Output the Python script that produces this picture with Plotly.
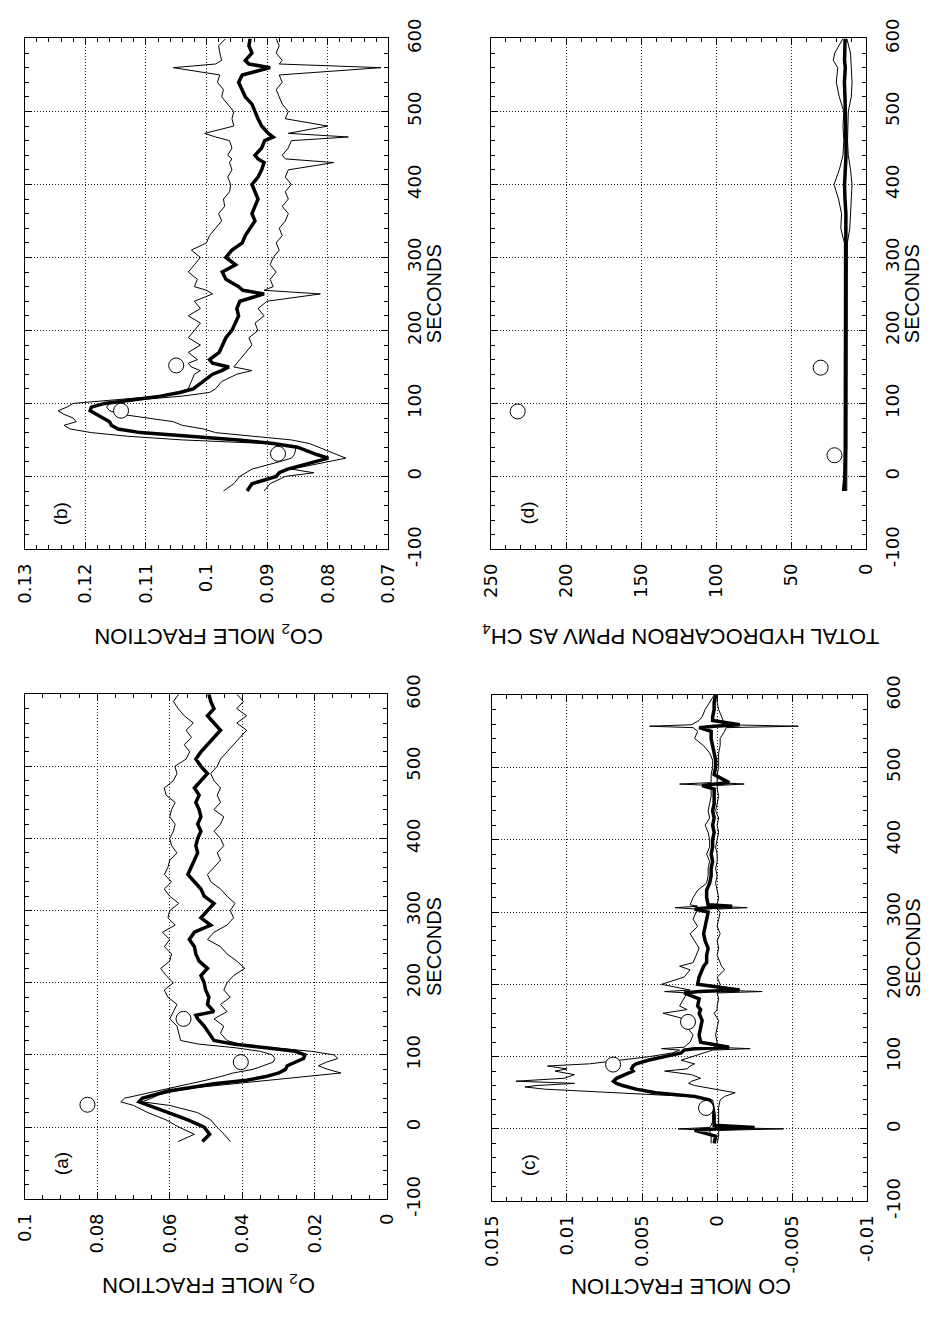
import plotly.graph_objects as go

# ---------------- data ----------------
# (a) O2 mole fraction
o2_time = [-20, -10, 0, 10, 20, 30, 35, 40, 45, 50, 55, 60, 65, 70, 75, 80, 85, 90, 95, 100,
           105, 110, 115, 120, 130, 140, 150, 155, 160, 170, 180, 190, 200, 210, 220, 230, 240,
           250, 260, 270, 280, 290, 300, 310, 320, 330, 340, 350, 360, 370, 380, 390, 400, 410,
           420, 430, 440, 450, 460, 470, 480, 490, 500, 510, 520, 530, 540, 550, 560, 570, 580,
           590, 600]
o2_mean = [0.0510, 0.0490, 0.0505, 0.0550, 0.0604, 0.0658, 0.0685, 0.0676, 0.0640, 0.0604,
           0.0541, 0.0478, 0.0388, 0.0335, 0.0299, 0.0281, 0.0276, 0.0254, 0.0231, 0.0227,
           0.0254, 0.0335, 0.0424, 0.0478, 0.0492, 0.0505, 0.0523, 0.0528, 0.0478, 0.0496,
           0.0492, 0.0501, 0.0505, 0.0514, 0.0496, 0.0519, 0.0528, 0.0532, 0.0546, 0.0532,
           0.0487, 0.0514, 0.0496, 0.0478, 0.0505, 0.0514, 0.0532, 0.0550, 0.0541, 0.0532,
           0.0523, 0.0528, 0.0523, 0.0514, 0.0523, 0.0514, 0.0519, 0.0528, 0.0519, 0.0532,
           0.0514, 0.0496, 0.0514, 0.0528, 0.0514, 0.0496, 0.0478, 0.0460, 0.0478, 0.0496,
           0.0478, 0.0487, 0.0492]
o2_upper = [0.0577, 0.0532, 0.0575, 0.0610, 0.0660, 0.0700, 0.0735, 0.0725, 0.0680, 0.0635,
            0.0590, 0.0540, 0.0500, 0.0460, 0.0425, 0.0370, 0.0340, 0.0315, 0.0310, 0.0317,
            0.0350, 0.0420, 0.0520, 0.0570, 0.0575, 0.0580, 0.0600, 0.0595, 0.0590, 0.0580,
            0.0605, 0.0615, 0.0590, 0.0610, 0.0625, 0.0600, 0.0595, 0.0615, 0.0600, 0.0620,
            0.0585, 0.0605, 0.0600, 0.0575, 0.0600, 0.0615, 0.0595, 0.0615, 0.0605, 0.0600,
            0.0580, 0.0595, 0.0600, 0.0590, 0.0585, 0.0600, 0.0595, 0.0585, 0.0610, 0.0615,
            0.0590, 0.0580, 0.0586, 0.0555, 0.0545, 0.0560, 0.0540, 0.0555, 0.0535, 0.0560,
            0.0577, 0.0590, 0.0575]
o2_lower = [0.0433, 0.0450, 0.0470, 0.0487, 0.0523, 0.0600, 0.0676, 0.0650, 0.0630, 0.0586,
            0.0523, 0.0424, 0.0335, 0.0227, 0.0128, 0.0164, 0.0190, 0.0168, 0.0137, 0.0146,
            0.0209, 0.0317, 0.0406, 0.0442, 0.0460, 0.0451, 0.0478, 0.0460, 0.0442, 0.0460,
            0.0433, 0.0451, 0.0442, 0.0424, 0.0393, 0.0415, 0.0442, 0.0460, 0.0496, 0.0478,
            0.0442, 0.0424, 0.0433, 0.0420, 0.0442, 0.0460, 0.0487, 0.0496, 0.0478, 0.0460,
            0.0469, 0.0451, 0.0460, 0.0478, 0.0460, 0.0451, 0.0478, 0.0460, 0.0469, 0.0460,
            0.0478, 0.0487, 0.0469, 0.0460, 0.0442, 0.0424, 0.0406, 0.0388, 0.0415, 0.0388,
            0.0415, 0.0397, 0.0415]
o2_probe_time = [31, 90, 150]
o2_probe = [0.0827, 0.0404, 0.0562]

# (b) CO2 mole fraction
co2_time = [-20, -10, 0, 5, 10, 20, 25, 30, 40, 45, 50, 55, 60, 65, 70, 75, 80, 85, 90, 95,
            100, 105, 110, 115, 120, 130, 140, 145, 150, 155, 160, 170, 180, 190, 200, 210,
            220, 230, 240, 250, 255, 260, 270, 280, 290, 300, 310, 320, 330, 340, 350, 360,
            370, 380, 390, 400, 410, 420, 430, 435, 440, 450, 460, 465, 470, 480, 490, 500,
            510, 520, 530, 540, 550, 560, 565, 570, 580, 590, 600]
co2_mean = [0.0933, 0.0925, 0.0885, 0.0880, 0.0866, 0.0823, 0.0799, 0.0818, 0.0850, 0.0890,
            0.0947, 0.1028, 0.1109, 0.1146, 0.1157, 0.1160, 0.1170, 0.1182, 0.1192, 0.1190,
            0.1168, 0.1120, 0.1076, 0.1044, 0.1022, 0.1006, 0.0990, 0.0975, 0.0963, 0.0990,
            0.0995, 0.0979, 0.0974, 0.0968, 0.0958, 0.0952, 0.0947, 0.0950, 0.0945, 0.0905,
            0.0940, 0.0947, 0.0968, 0.0974, 0.0952, 0.0968, 0.0958, 0.0941, 0.0936, 0.0928,
            0.0920, 0.0925, 0.0920, 0.0915, 0.0920, 0.0925, 0.0915, 0.0909, 0.0905, 0.0915,
            0.0920, 0.0909, 0.0904, 0.0890, 0.0898, 0.0909, 0.0915, 0.0920, 0.0925, 0.0936,
            0.0941, 0.0947, 0.0941, 0.0895, 0.0930, 0.0936, 0.0925, 0.0930, 0.0928]
co2_upper = [0.0972, 0.0955, 0.0945, 0.0935, 0.0925, 0.0880, 0.0860, 0.0855, 0.0852, 0.0900,
             0.1040, 0.1130, 0.1190, 0.1225, 0.1235, 0.1215, 0.1220, 0.1235, 0.1245, 0.1230,
             0.1220, 0.1150, 0.1080, 0.1045, 0.1030, 0.1025, 0.1020, 0.1010, 0.1025, 0.1030,
             0.1015, 0.1030, 0.1010, 0.1030, 0.1020, 0.1010, 0.1030, 0.1010, 0.1020, 0.0990,
             0.1000, 0.1020, 0.1015, 0.1030, 0.1020, 0.1010, 0.1025, 0.1000, 0.0995, 0.0985,
             0.0975, 0.0980, 0.0970, 0.0972, 0.0962, 0.0960, 0.0965, 0.0958, 0.0962, 0.0958,
             0.0965, 0.0958, 0.0962, 0.0985, 0.1003, 0.0955, 0.0958, 0.0955, 0.0965, 0.0975,
             0.0972, 0.0982, 0.0978, 0.1055, 0.0985, 0.0975, 0.0978, 0.0980, 0.0968]
co2_lower = [0.0905, 0.0895, 0.0870, 0.0823, 0.0860, 0.0800, 0.0770, 0.0785, 0.0815, 0.0830,
             0.0860, 0.0920, 0.0985, 0.1005, 0.1040, 0.1055, 0.1100, 0.1140, 0.1160, 0.1165,
             0.1160, 0.1110, 0.1040, 0.0995, 0.0985, 0.0975, 0.0950, 0.0925, 0.0955, 0.0950,
             0.0945, 0.0935, 0.0925, 0.0930, 0.0915, 0.0920, 0.0905, 0.0915, 0.0900, 0.0812,
             0.0905, 0.0890, 0.0895, 0.0885, 0.0895, 0.0890, 0.0880, 0.0885, 0.0875, 0.0880,
             0.0870, 0.0865, 0.0875, 0.0865, 0.0870, 0.0860, 0.0870, 0.0865, 0.0790, 0.0870,
             0.0875, 0.0865, 0.0860, 0.0766, 0.0865, 0.0800, 0.0870, 0.0865, 0.0875, 0.0880,
             0.0885, 0.0875, 0.0880, 0.0712, 0.0880, 0.0875, 0.0885, 0.0880, 0.0885]
co2_probe_time = [31, 90, 152]
co2_probe = [0.0882, 0.1141, 0.1050]

# (c) CO mole fraction
co_time = [-20, -10, -2, 0, 2, 5, 10, 20, 30, 40, 45, 50, 55, 58, 60, 63, 66, 70, 75, 80, 83,
           87, 90, 95, 100, 105, 109, 111, 113, 120, 130, 140, 150, 160, 165, 170, 180, 188,
           190, 192, 200, 210, 220, 225, 230, 240, 250, 260, 270, 280, 290, 300, 304, 306,
           308, 310, 320, 330, 340, 350, 360, 370, 380, 390, 400, 410, 420, 430, 440, 450,
           460, 470, 475, 477, 479, 490, 500, 510, 520, 530, 540, 550, 555, 557, 559, 565,
           570, 580, 590, 600]
co_mean = [0.0002, 0.0001, 0.0015, 0.0001, -0.0025, 0.0002, 0.0002, 0.0002, 0.0003, 0.0005,
           0.0015, 0.0041, 0.0054, 0.0060, 0.0063, 0.0067, 0.0069, 0.0067, 0.0061, 0.0056,
           0.0057, 0.0056, 0.0054, 0.0046, 0.0035, 0.0024, 0.0022, 0.0015, -0.0008, 0.0011,
           0.0012, 0.0011, 0.0010, 0.0012, 0.0011, 0.0013, 0.0012, 0.0022, 0.0012, -0.0015,
           0.0013, 0.0012, 0.0010, 0.0009, 0.0007, 0.0007, 0.0006, 0.0008, 0.0009, 0.0008,
           0.0007, 0.0006, 0.0015, 0.0006, -0.0010, 0.0006, 0.0007, 0.0007, 0.0005, 0.0004,
           0.0004, 0.0003, 0.0004, 0.0003, 0.0003, 0.0002, 0.0003, 0.0002, 0.0003, 0.0002,
           0.0002, 0.0002, 0.0010, 0.0002, -0.0008, 0.0002, 0.0001, 0.0001, 0.0002, 0.0003,
           0.0004, 0.0004, 0.0012, 0.0002, -0.0015, 0.0003, 0.0003, 0.0002, 0.0002, 0.0001]
co_upper = [0.0004, 0.0004, 0.0005, 0.0026, 0.0005, 0.0004, 0.0003, 0.0003, 0.0002, 0.0003,
            0.0020, 0.0069, 0.0115, 0.0128, 0.0120, 0.0095, 0.0134, 0.0102, 0.0095, 0.0108,
            0.0100, 0.0113, 0.0085, 0.0065, 0.0045, 0.0030, 0.0025, 0.0037, 0.0022, 0.0018,
            0.0016, 0.0020, 0.0018, 0.0036, 0.0020, 0.0025, 0.0022, 0.0020, 0.0035, 0.0018,
            0.0037, 0.0022, 0.0018, 0.0025, 0.0016, 0.0014, 0.0012, 0.0015, 0.0018, 0.0013,
            0.0016, 0.0014, 0.0013, 0.0028, 0.0013, 0.0018, 0.0016, 0.0013, 0.0007, 0.0006,
            0.0006, 0.0005, 0.0007, 0.0005, 0.0005, 0.0006, 0.0008, 0.0005, 0.0006, 0.0005,
            0.0004, 0.0004, 0.0004, 0.0025, 0.0004, 0.0004, 0.0003, 0.0003, 0.0005, 0.0009,
            0.0015, 0.0013, 0.0016, 0.0045, 0.0017, 0.0012, 0.0010, 0.0008, 0.0005, 0.0002]
co_lower = [0.0000, -0.0001, -0.0001, -0.0044, -0.0001, -0.0001, -0.0001, -0.0001, -0.0001,
            -0.0002, -0.0005, -0.0012, 0.0002, 0.0012, 0.0015, 0.0019, 0.0017, 0.0011, 0.0017,
            0.0035, 0.0020, 0.0018, 0.0015, 0.0024, 0.0017, 0.0009, 0.0003, -0.0022, 0.0002,
            0.0000, 0.0001, 0.0000, -0.0001, 0.0002, 0.0000, 0.0000, -0.0001, 0.0000, -0.0030,
            0.0000, -0.0002, 0.0000, -0.0005, -0.0003, -0.0002, 0.0000, -0.0001, 0.0000,
            -0.0002, 0.0000, -0.0001, -0.0002, 0.0000, -0.0020, 0.0000, 0.0000, -0.0001,
            0.0000, 0.0001, 0.0000, 0.0001, 0.0000, 0.0000, 0.0001, 0.0000, -0.0001, 0.0000,
            -0.0001, 0.0001, 0.0000, -0.0001, 0.0000, 0.0000, -0.0018, 0.0000, 0.0000,
            -0.0001, -0.0001, -0.0001, -0.0002, -0.0002, -0.0005, -0.0006, -0.0054, -0.0006,
            -0.0004, -0.0003, -0.0001, 0.0000, 0.0000]
co_probe_time = [29, 89, 148]
co_probe = [0.00074, 0.00693, 0.00194]

# (d) total hydrocarbon, ppmv as CH4
thc_time = [-20, 0, 20, 40, 60, 80, 100, 120, 140, 160, 180, 200, 220, 240, 260, 280, 300,
            320, 340, 360, 380, 400, 420, 440, 460, 480, 500, 520, 540, 560, 570, 580, 600]
thc_mean = [14.5, 14.0, 14.0, 13.8, 13.8, 13.9, 14.0, 13.8, 13.8, 13.7, 13.8, 13.8, 13.7, 13.7,
            13.7, 13.6, 13.7, 13.7, 14.0, 13.6, 14.2, 14.5, 14.0, 13.5, 13.6, 13.7, 13.8, 14.2,
            14.6, 14.0, 14.5, 14.2, 14.1]
thc_upper = [16.0, 15.0, 14.8, 14.8, 14.7, 14.8, 14.8, 14.7, 14.7, 14.6, 14.6, 14.7, 14.6, 14.6,
             14.6, 14.5, 14.6, 14.6, 17.0, 16.5, 18.5, 21.5, 18.0, 15.5, 15.0, 15.5, 15.0, 18.0,
             20.0, 19.0, 22.0, 21.0, 15.5]
thc_lower = [13.0, 13.0, 12.8, 12.8, 12.9, 12.8, 12.8, 12.8, 12.8, 12.7, 12.8, 12.7, 12.7, 12.7,
             12.7, 12.6, 12.7, 12.6, 11.0, 10.5, 10.0, 9.5, 10.5, 12.0, 12.5, 12.5, 12.0, 10.0,
             9.5, 10.0, 10.5, 10.5, 13.0]
thc_probe_time = [29, 89, 149]
thc_probe = [21.2, 232.2, 30.4]

# tick labels
seconds_ticks = [-100, 0, 100, 200, 300, 400, 500, 600]
seconds_ticktext = ["-100", "0", "100", "200", "300", "400", "500", "600"]
o2_ticks = [0.1, 0.08, 0.06, 0.04, 0.02, 0]
o2_ticktext = ["0.1", "0.08", "0.06", "0.04", "0.02", "0"]
co2_ticks = [0.13, 0.12, 0.11, 0.1, 0.09, 0.08, 0.07]
co2_ticktext = ["0.13", "0.12", "0.11", "0.1", "0.09", "0.08", "0.07"]
co_ticks = [0.015, 0.01, 0.005, 0, -0.005, -0.01]
co_ticktext = ["0.015", "0.01", "0.005", "0", "-0.005", "-0.01"]
thc_ticks = [250, 200, 150, 100, 50, 0]
thc_ticktext = ["250", "200", "150", "100", "50", "0"]

# ---------------- figure ----------------
W, H = 933, 1328
FONT = "Liberation Sans, Arial, Helvetica, sans-serif"
TICKFONT = "DejaVu Sans, Liberation Sans, Arial, sans-serif"

panels = [
    dict(label="(b)", t=co2_time, m=co2_mean, u=co2_upper, l=co2_lower,
         pt=co2_probe_time, pv=co2_probe, rng=[0.13, 0.07], tv=co2_ticks, tt=co2_ticktext,
         minor=0.002, box=(14, 386, 19, 545),
         title="CO<sub>2</sub> MOLE FRACTION"),
    dict(label="(d)", t=thc_time, m=thc_mean, u=thc_upper, l=thc_lower,
         pt=thc_probe_time, pv=thc_probe, rng=[250, 0], tv=thc_ticks, tt=thc_ticktext,
         minor=10, box=(491, 875, 19, 545),
         title="TOTAL HYDROCARBON PPMV AS CH<sub>4</sub>"),
    dict(label="(a)", t=o2_time, m=o2_mean, u=o2_upper, l=o2_lower,
         pt=o2_probe_time, pv=o2_probe, rng=[0.1, 0], tv=o2_ticks, tt=o2_ticktext,
         minor=0.005, box=(14, 385, 694, 1214),
         title="O<sub>2</sub> MOLE FRACTION"),
    dict(label="(c)", t=co_time, m=co_mean, u=co_upper, l=co_lower,
         pt=co_probe_time, pv=co_probe, rng=[0.015, -0.01], tv=co_ticks, tt=co_ticktext,
         minor=0.001, box=(492, 876, 695, 1216),
         title="CO MOLE FRACTION"),
]

fig = go.Figure()
annotations = []
axis_base = dict(
    showline=True, linecolor="black", linewidth=1, mirror="allticks",
    ticks="inside", ticklen=7, tickwidth=1, tickcolor="black",
    showgrid=True, gridcolor="#222222", gridwidth=1, griddash="1px,2px",
    zeroline=False, tickangle=-90,
    tickfont=dict(family=TICKFONT, size=18, color="black"),
)

for i, p in enumerate(panels, start=1):
    assert len(p["t"]) == len(p["m"]) == len(p["u"]) == len(p["l"]), p["label"]
    sx = "" if i == 1 else str(i)
    xa, ya = "x" + sx, "y" + sx
    x0, x1, y0, y1 = p["box"]
    for vals, w in ((p["u"], 1), (p["l"], 1), (p["m"], 3.5)):
        fig.add_trace(go.Scatter(x=vals, y=p["t"], mode="lines", xaxis=xa, yaxis=ya,
                                 line=dict(color="black", width=w), showlegend=False,
                                 hoverinfo="skip"))
    fig.add_trace(go.Scatter(x=p["pv"], y=p["pt"], mode="markers", xaxis=xa, yaxis=ya,
                             marker=dict(symbol="circle", size=15, color="white",
                                         line=dict(color="black", width=1)),
                             showlegend=False, hoverinfo="skip"))
    fig.layout["xaxis" + sx] = dict(
        axis_base, domain=[x0 / W, x1 / W], range=p["rng"], anchor=ya,
        tickmode="array", tickvals=p["tv"], ticktext=p["tt"], ticklabelstandoff=6,
        minor=dict(dtick=p["minor"], ticks="inside", ticklen=4, tickcolor="black",
                   tickwidth=1, showgrid=False))
    fig.layout["yaxis" + sx] = dict(
        axis_base, domain=[1 - y1 / H, 1 - y0 / H], range=[-100, 600], anchor=xa,
        side="right", tickmode="array", tickvals=seconds_ticks, ticktext=seconds_ticktext,
        ticklabelstandoff=10,
        minor=dict(dtick=20, ticks="inside", ticklen=4, tickcolor="black",
                   tickwidth=1, showgrid=False))
    # SECONDS label (reads bottom to top)
    annotations.append(dict(text="SECONDS", textangle=-90, showarrow=False,
                            xref="paper", yref="paper",
                            x=(x1 + 47) / W, y=1 - ((y0 + y1) / 2) / H,
                            xanchor="center", yanchor="middle",
                            font=dict(family=FONT, size=20, color="black")))
    # value-axis title (upside down)
    annotations.append(dict(text=p["title"], textangle=180, showarrow=False,
                            xref="paper", yref="paper",
                            x=((x0 + x1) / 2 + 2) / W, y=1 - (y1 + 88) / H,
                            xanchor="center", yanchor="middle",
                            font=dict(family=FONT, size=22, color="black")))
    # panel letter
    annotations.append(dict(text=p["label"], textangle=-90, showarrow=False,
                            xref="paper", yref="paper",
                            x=(x0 + 37) / W, y=1 - (y1 - 37) / H,
                            xanchor="center", yanchor="middle",
                            font=dict(family=FONT, size=19, color="black")))

fig.update_layout(
    width=W, height=H, margin=dict(l=0, r=0, t=0, b=0),
    paper_bgcolor="white", plot_bgcolor="white", showlegend=False,
    annotations=annotations,
)

fig.write_html("out.html")
